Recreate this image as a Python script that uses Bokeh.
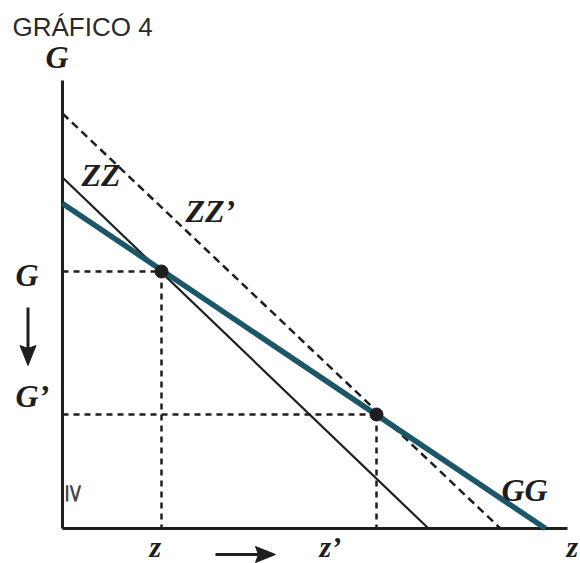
from bokeh.plotting import figure
from bokeh.models import Range1d
from bokeh.core.properties import value
from bokeh.embed import file_html
from bokeh.resources import INLINE
import math

# Curve end-points (intercepts on the G axis and on the z axis)
zz_line = {"z": [0.0, 36.6], "g": [35.1, 0.0]}
zz_shift = {"z": [0.0, 43.8], "g": [41.5, 0.0]}
gg_line = {"z": [0.0, 48.3], "g": [32.5, 0.0]}

# Equilibria: (z, G) before and after the shift of ZZ
eq_z = [9.9, 31.4]
eq_g = [25.7, 11.4]

axis_z_max = 50.5
axis_g_max = 44.8

INK = "#1e1e1e"
TEAL = "#1b5767"
SERIF = value("Liberation Serif")

p = figure(width=580, height=563, output_backend="svg", toolbar_location=None,
           x_range=Range1d(-6.2, 51.8), y_range=Range1d(-3.5, 52.8),
           min_border=0)
p.axis.visible = False
p.grid.visible = False
p.outline_line_color = None
p.background_fill_color = "white"

# axes
p.line([0, 0], [0, axis_g_max], line_color=INK, line_width=3)
p.line([0, axis_z_max], [0, 0], line_color=INK, line_width=3)

# guide lines to the equilibria
for zv, gv in zip(eq_z, eq_g):
    p.line([0, zv], [gv, gv], line_color=INK, line_width=2.5, line_dash="6 5")
    p.line([zv, zv], [gv, 0], line_color=INK, line_width=2.5, line_dash="6 5")

# curves
p.line(zz_shift["z"], zz_shift["g"], line_color=INK, line_width=2.5, line_dash="8 5")
p.line(zz_line["z"], zz_line["g"], line_color=INK, line_width=2.2)
p.line(gg_line["z"], gg_line["g"], line_color=TEAL, line_width=5.5)

# equilibrium points
p.scatter(eq_z, eq_g, size=13, fill_color=INK, line_color=INK)

# labels
p.text(x=[-5.0], y=[50.2], text=["GRÁFICO 4"], text_font=value("Liberation Sans"),
       text_font_size="26px", text_color="#2a2a2a", text_baseline="alphabetic")

def lab(x, y, s, align="left", size="32px"):
    p.text(x=[x], y=[y], text=[s], text_font=SERIF, text_font_style="bold italic",
           text_font_size=size, text_color=INK, text_align=align,
           text_baseline="alphabetic")

lab(-0.55, 47.2, "G", align="center")
lab(1.9, 35.4, "ZZ")
lab(12.3, 31.8, "ZZ’")
lab(-4.7, 25.4, "G")
lab(-4.7, 13.3, "G’")
lab(43.9, 3.9, "GG")
lab(8.7, -1.8, "z", size="30px")
lab(25.7, -1.8, "z’", size="30px")
lab(50.4, -1.8, "z", size="30px")

# small mark near the origin
p.text(x=[1.2], y=[3.5], text=["≥"], text_font=value("DejaVu Sans"),
       text_font_size="26px", text_color="#444444", angle=-math.pi / 2,
       text_align="center", text_baseline="middle")

# arrows showing the direction of change (shaft + notched head)
def arrow(x0, y0, x1, y1, head_len=2.0, half_w=0.8, notch=0.3):
    dx, dy = x1 - x0, y1 - y0
    n = math.hypot(dx, dy)
    ux, uy = dx / n, dy / n
    px, py = -uy, ux
    bx, by = x1 - ux * head_len, y1 - uy * head_len
    p.line([x0, bx + ux * notch], [y0, by + uy * notch], line_color=INK, line_width=3)
    xs = [x1, bx + px * half_w, bx + ux * notch, bx - px * half_w]
    ys = [y1, by + py * half_w, by + uy * notch, by - py * half_w]
    p.patch(xs, ys, fill_color=INK, line_color=INK, line_width=1)

arrow(-3.45, 22.1, -3.45, 16.3)
arrow(15.3, -2.6, 21.3, -2.6)

open("out.html", "w").write(file_html(p, INLINE))
